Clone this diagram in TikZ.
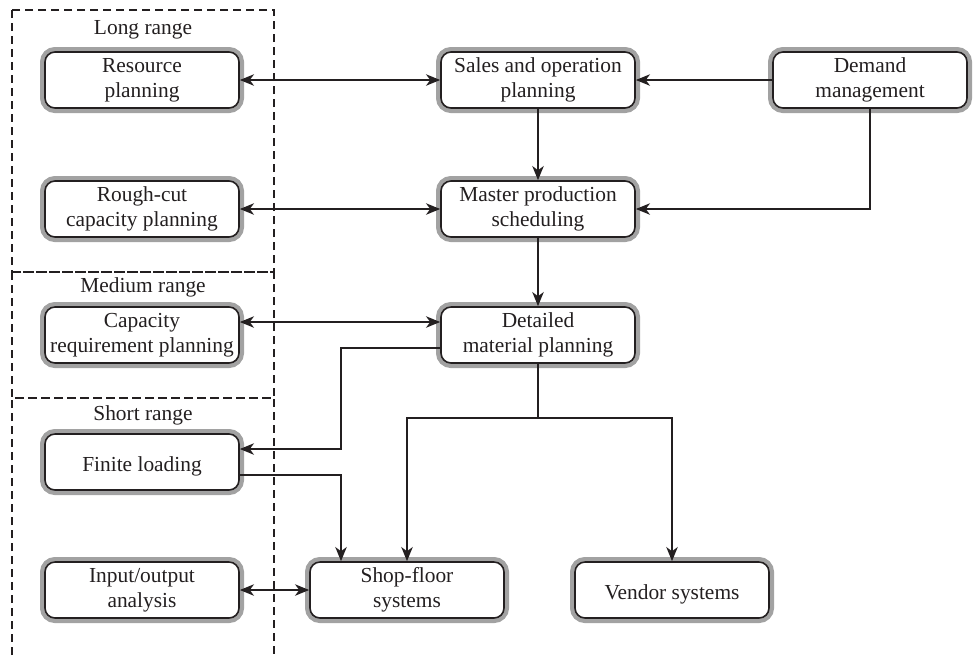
\documentclass[tikz,border=0pt]{standalone}
\usepackage{fontspec}
\setmainfont{Liberation Serif}
\usepackage{tikz}
\usetikzlibrary{arrows.meta}
\definecolor{ink}{HTML}{231F20}
\definecolor{ring}{HTML}{A2A2A2}
\tikzset{
  stufe/.style={draw=ink,fill=white,line width=0.8pt,rounded corners=5pt,
    minimum width=97pt,minimum height=28pt,align=center,inner sep=1pt,
    text=ink,font=\fontsize{10.7pt}{12.3pt}\selectfont,
    execute at begin node=\rule{0pt}{11.6pt},
    preaction={draw=ring,line width=5pt,rounded corners=5pt}},
  fluss/.style={-{Stealth[length=7pt,width=5.6pt,inset=2pt]},ink,line width=1.3pt},
  fluss2/.style={{Stealth[length=7pt,width=5.6pt,inset=2pt]}-{Stealth[length=7pt,width=5.6pt,inset=2pt]},ink,line width=1.3pt},
  linie/.style={ink,line width=1.3pt},
  zone/.style={ink,line width=0.55pt,dash pattern=on 4pt off 2.5pt},
  zonetext/.style={text=ink,font=\fontsize{10.7pt}{12.3pt}\selectfont},
}

\begin{document}
\begin{tikzpicture}[x=0.5pt,y=-0.5pt]
  \useasboundingbox (0,0) rectangle (978,655);
  % planning horizons
  \draw[zone] (12,10) rectangle (274,272);
  \draw[zone] (12,272) rectangle (274,398);
  \draw[zone] (12,655) -- (12,398) -- (274,398) -- (274,655);
  \node[zonetext] (long) at (143,30) {Long range};
  \node[zonetext] (medium) at (143,287) {Medium range};
  \node[zonetext] (short) at (143,415) {Short range};
  % blocks
  \node[stufe] (res) at (142,80) {Resource\\planning};
  \node[stufe] (sop) at (538,80) {Sales and operation\\planning};
  \node[stufe] (dem) at (870,80) {Demand\\management};
  \node[stufe] (rcc) at (142,209) {Rough-cut\\capacity planning};
  \node[stufe] (mps) at (538,209) {Master production\\scheduling};
  \node[stufe] (crp) at (142,335) {Capacity\\requirement planning};
  \node[stufe] (dmp) at (538,335) {Detailed\\material planning};
  \node[stufe] (fin) at (142,462) {Finite loading};
  \node[stufe] (ioa) at (142,590) {Input/output\\analysis};
  \node[stufe] (sfs) at (407,590) {Shop-floor\\systems};
  \node[stufe] (ven) at (672,590) {Vendor systems};
  \coordinate (split) at (538,418);
  % flows
  \draw[fluss2] (res) -- (sop);
  \draw[fluss] (dem) -- (sop);
  \draw[fluss] (sop) -- (mps);
  \draw[fluss2] (rcc) -- (mps);
  \draw[fluss] (dem.south) |- (mps.east);
  \draw[fluss] (mps) -- (dmp);
  \draw[fluss2] ([yshift=6.5pt]crp.east) -- ([yshift=6.5pt]dmp.west);
  \draw[fluss] ([yshift=-6.5pt]dmp.west) -| (341,449) -- ([yshift=6.5pt]fin.east);
  \draw[fluss] ([yshift=-6.5pt]fin.east) -| ([xshift=-33pt]sfs.north);
  \draw[linie] (dmp.south) -- (split);
  \draw[fluss] (split) -| (sfs.north);
  \draw[fluss] (split) -| (ven.north);
  \draw[fluss2] (ioa) -- (sfs);
\end{tikzpicture}
\end{document}
